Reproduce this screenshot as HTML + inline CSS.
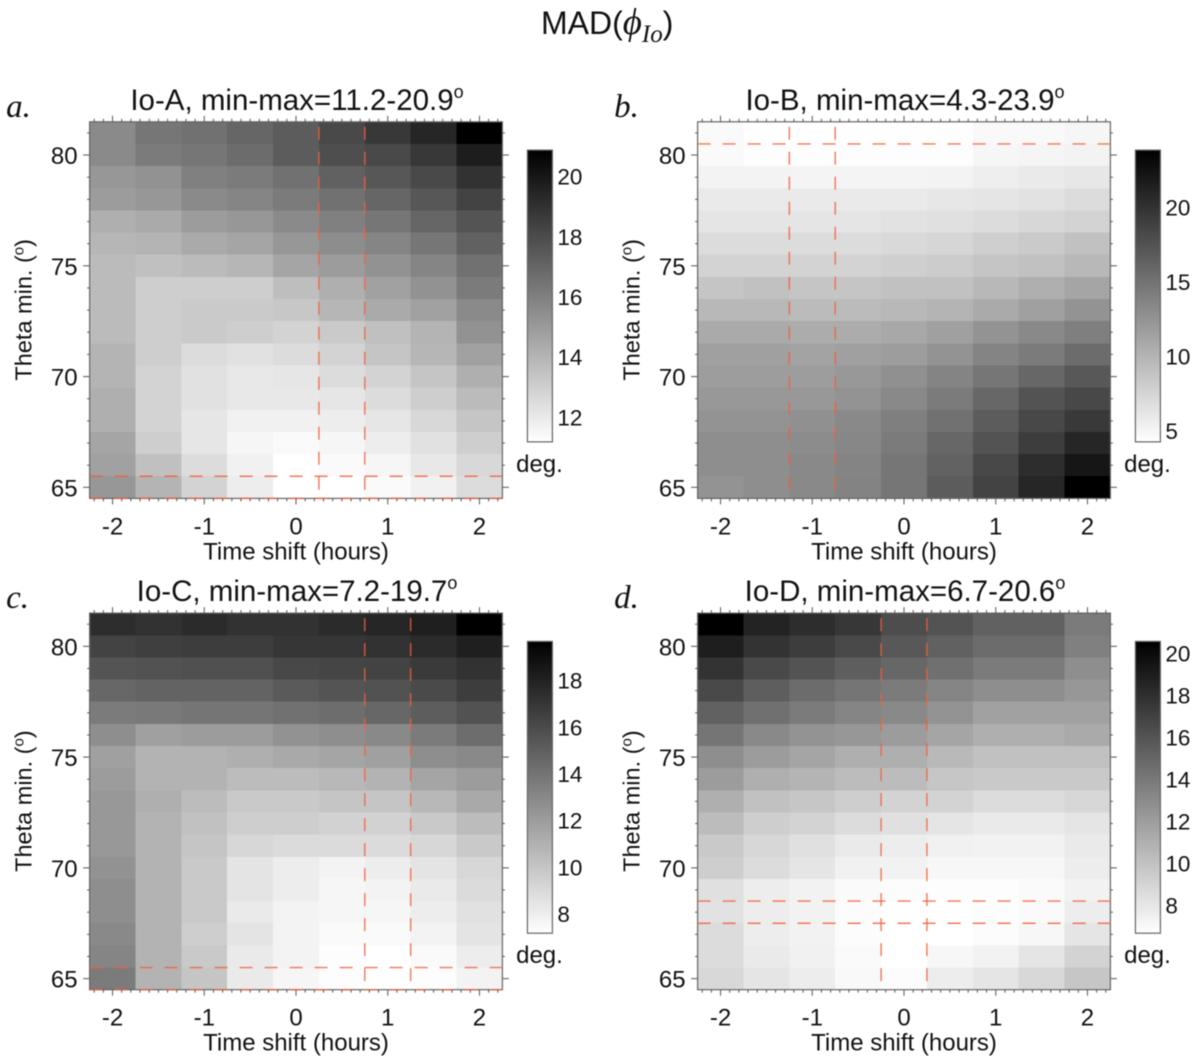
<!DOCTYPE html>
<html lang="en">
<head>
<meta charset="utf-8">
<title>MAD(phi Io)</title>
<style>
html,body{margin:0;padding:0;background:#fff;}
svg{display:block;filter:blur(0.55px);}
text{font-family:"Liberation Sans",sans-serif;fill:#111;}
.serif{font-family:"Liberation Serif",serif;font-style:italic;}
</style>
</head>
<body>
<svg id="figure" xmlns="http://www.w3.org/2000/svg" width="1200" height="1061" viewBox="0 0 1200 1061">
  <defs>
    <linearGradient id="grayRamp" x1="0" y1="1" x2="0" y2="0">
      <stop offset="0" stop-color="#fff"/>
      <stop offset="1" stop-color="#000"/>
    </linearGradient>
  </defs>
  <rect x="0" y="0" width="1200" height="1061" fill="#fff"/>
  <text x="541" y="34" font-size="32">MAD(<tspan class="serif" font-size="37">&#981;</tspan><tspan class="serif" font-size="25" dy="8">Io</tspan><tspan dy="-8">)</tspan></text>
</svg>
<script>
const timeShifts = [-2, -1.5, -1, -0.5, 0, 0.5, 1, 1.5, 2];
const thetaMins = [81, 80, 79, 78, 77, 76, 75, 74, 73, 72, 71, 70, 69, 68, 67, 66, 65];
const xTickLabels = [-2, -1, 0, 1, 2];
const yTickLabels = [65, 70, 75, 80];

const ioAValues = [
[16.1,16.9,17.1,17.5,17.9,18.6,19.2,19.8,20.9],
[16.1,16.7,16.9,17.3,17.9,18.4,18.6,19.2,20.1],
[15.6,15.8,16.5,16.7,17.1,17.7,18.1,18.6,19.4],
[15.4,15.6,16.1,16.3,16.7,17.1,17.5,18.1,18.8],
[14.6,14.8,15.4,15.6,16.1,16.5,16.9,17.5,18.2],
[14.3,14.4,14.8,15.0,15.6,16.0,16.3,16.9,17.7],
[14.1,13.9,14.1,14.3,15.0,15.4,15.8,16.3,17.1],
[14.1,13.3,13.3,13.3,14.0,14.6,15.2,15.8,16.7],
[14.1,13.3,13.5,13.5,13.6,14.3,14.8,15.2,16.1],
[14.1,13.3,13.5,13.3,13.1,13.5,13.9,14.4,15.8],
[14.4,13.3,12.7,12.5,12.7,13.1,13.7,14.3,15.2],
[14.4,13.1,12.5,12.2,12.3,12.7,13.1,13.7,14.6],
[14.6,13.1,12.5,12.2,12.2,12.3,12.7,13.3,14.1],
[14.6,13.1,12.3,11.8,11.8,12.0,12.3,12.9,13.7],
[15.0,13.3,12.3,11.6,11.4,11.6,12.0,12.5,13.3],
[15.2,13.9,12.7,11.8,11.2,11.4,11.6,12.2,12.9],
[15.6,14.4,13.1,12.0,11.2,11.2,11.4,11.8,12.7]
];
const ioBValues = [
[4.7,4.3,4.3,4.3,4.4,4.4,4.8,4.8,5.1],
[4.7,4.5,4.5,4.5,4.5,4.5,5.1,5.2,5.4],
[5.4,5.4,5.3,5.3,5.3,5.4,5.8,6.1,6.4],
[6.1,6.1,6.1,6.1,6.1,6.4,6.6,6.8,7.4],
[6.6,6.6,6.6,6.6,6.8,7.0,7.4,7.8,8.1],
[7.4,7.4,7.4,7.4,7.6,7.9,8.5,8.9,9.7],
[8.1,8.1,8.1,8.1,8.5,8.7,9.3,9.7,10.4],
[9.3,9.7,9.3,9.3,9.7,9.7,10.4,11.2,12.0],
[10.4,10.4,10.2,10.2,10.4,10.8,11.6,12.4,13.5],
[11.6,11.6,11.4,11.4,11.8,12.4,13.5,14.3,15.1],
[12.4,12.4,12.2,12.4,12.7,13.5,14.7,15.4,16.6],
[12.7,12.7,12.7,13.1,13.7,14.7,15.8,17.0,18.1],
[13.1,13.1,13.1,13.5,14.3,15.4,17.0,18.5,19.3],
[13.5,13.5,13.7,14.3,15.1,16.2,17.8,19.3,20.4],
[13.9,13.9,14.1,14.5,15.4,17.0,18.5,20.1,21.7],
[13.9,13.9,14.3,14.7,15.8,17.4,19.3,21.2,22.7],
[13.5,13.9,14.3,14.8,15.8,17.8,19.7,21.7,23.9]
];
const ioCValues = [
[18.0,17.8,18.1,17.8,17.8,18.1,18.3,18.6,19.7],
[17.0,17.2,17.3,17.3,17.6,17.6,17.8,18.1,18.6],
[16.2,16.3,16.4,16.4,16.8,16.9,17.0,17.4,17.8],
[15.3,15.5,15.5,15.5,15.9,16.2,16.3,16.7,17.3],
[14.3,14.4,14.6,14.6,14.8,15.0,15.3,15.8,16.3],
[13.3,12.4,12.6,12.6,13.1,13.3,13.6,14.3,15.0],
[12.4,11.4,11.4,11.6,11.9,12.1,12.4,13.3,13.6],
[12.6,11.4,11.4,10.9,10.9,11.1,11.4,12.1,12.6],
[12.8,11.6,10.9,10.2,10.2,10.4,10.4,11.1,11.9],
[12.8,11.4,10.6,9.9,9.9,9.7,9.7,10.2,10.9],
[12.8,11.4,10.4,9.4,9.2,9.2,9.2,9.4,10.2],
[13.1,11.4,10.2,8.7,8.2,7.9,8.2,8.7,9.4],
[13.3,11.4,10.2,8.7,8.2,7.7,7.9,8.4,9.2],
[13.3,11.4,10.2,8.4,7.9,7.7,7.7,8.2,8.9],
[13.6,11.4,9.9,8.7,7.9,7.5,7.5,7.9,8.7],
[13.8,11.4,10.2,8.4,7.9,7.3,7.2,7.5,8.2],
[14.3,11.4,10.4,8.4,7.7,7.3,7.2,7.3,7.9]
];
const ioDValues = [
[20.6,19.2,18.7,18.2,17.1,16.8,16.0,16.0,14.6],
[19.4,18.4,17.9,17.3,16.5,16.0,15.4,15.4,14.3],
[18.4,17.3,16.8,16.2,15.7,15.2,14.6,14.6,13.5],
[17.3,16.2,15.4,14.9,14.6,14.0,13.5,13.5,13.0],
[16.0,15.2,14.6,14.0,13.8,13.2,12.4,12.4,12.4],
[14.9,13.8,13.2,13.0,12.7,12.2,11.6,11.6,11.9],
[13.5,12.7,12.2,11.6,11.6,11.0,10.5,10.5,10.5],
[12.7,11.6,11.3,10.8,10.8,10.2,10.0,10.0,10.0],
[11.6,10.5,10.2,9.7,9.4,9.4,8.9,8.9,9.2],
[10.8,9.7,9.4,8.9,8.6,8.3,8.0,8.0,8.3],
[10.0,9.2,8.6,8.0,7.8,7.6,7.5,7.5,8.0],
[9.7,8.9,8.3,7.6,7.5,7.2,7.2,7.2,7.8],
[8.6,7.8,7.5,7.0,6.9,6.8,6.8,7.0,7.5],
[8.5,7.8,7.5,6.9,6.7,6.7,6.8,7.0,7.8],
[8.9,7.8,7.5,6.9,6.7,6.7,6.9,7.2,8.3],
[8.9,8.0,7.6,7.0,6.7,7.2,7.5,8.3,9.4],
[9.1,8.3,7.8,7.1,6.9,7.8,8.3,9.1,10.2]
];

const ioANames = ["Io-A", "Io-B", "Io-C", "Io-D"];
const panelLetters = ["a.", "b.", "c.", "d."];
const rangeMins = [11.2, 4.3, 7.2, 6.7];
const rangeMaxes = [20.9, 23.9, 19.7, 20.6];
const panelValues = [ioAValues, ioBValues, ioCValues, ioDValues];
const ioAColorTicks = [12, 14, 16, 18, 20];
const ioBColorTicks = [5, 10, 15, 20];
const ioCColorTicks = [8, 10, 12, 14, 16, 18];
const ioDColorTicks = [8, 10, 12, 14, 16, 18, 20];
const panelColorTicks = [ioAColorTicks, ioBColorTicks, ioCColorTicks, ioDColorTicks];
const ioAShiftBox = [0.25, 0.75];
const ioBShiftBox = [-1.25, -0.75];
const ioCShiftBox = [0.75, 1.25];
const ioDShiftBox = [-0.25, 0.25];
const panelShiftBoxes = [ioAShiftBox, ioBShiftBox, ioCShiftBox, ioDShiftBox];
const ioAThetaBox = [65.5, 64.5];
const ioBThetaBox = [80.5];
const ioCThetaBox = [65.5, 64.5];
const ioDThetaBox = [68.5, 67.5];
const panelThetaBoxes = [ioAThetaBox, ioBThetaBox, ioCThetaBox, ioDThetaBox];

/* layout, not data */
const PLOT_W = 412.8, PLOT_H = 376.6;
const originX = [89.6, 697.6, 89.6, 697.6];
const originY = [121.8, 121.8, 613.1, 613.1];
const CELL_GAMMA = 0.87;
const NS = "http://www.w3.org/2000/svg";
const svg = document.getElementById("figure");

function mk(tag, attrs, parent) {
  const el = document.createElementNS(NS, tag);
  for (const k in attrs) el.setAttribute(k, attrs[k]);
  parent.appendChild(el);
  return el;
}

function drawPanel(i) {
  const ox = originX[i], oy = originY[i];
  const xAxis = t => ox + (t + 2.25) / 4.5 * PLOT_W;
  const yAxis = d => oy + (81.5 - d) / 17 * PLOT_H;
  const lo = rangeMins[i], hi = rangeMaxes[i];
  const gray = v => {
    const frac = Math.max(0, Math.min(1, 1 - (v - lo) / (hi - lo)));
    const c = Math.round(255 * Math.pow(frac, CELL_GAMMA));
    return "rgb(" + c + "," + c + "," + c + ")";
  };

  const g = mk("g", {}, svg);
  
  

  const letter = mk("text", {x: ox - 83.5, y: oy - 5, "font-size": 33, "class": "serif"}, g);
  letter.textContent = panelLetters[i];
  
  

  const title = mk("text", {x: ox + PLOT_W / 2 + 1, y: oy - 12, "font-size": 29.5, "text-anchor": "middle"}, g);
  title.textContent = ioANames[i] + ", min-max=" + lo.toFixed(1) + "-" + hi.toFixed(1);
  
  
  const deg = mk("tspan", {dy: -12, "font-size": 18}, title);
  deg.textContent = "o";
  
  

  const cells = mk("g", {"shape-rendering": "crispEdges"}, g);
  
  
  panelValues[i].forEach((row, r) => {
    row.forEach((v, c) => {
      const x0 = xAxis(timeShifts[c] - 0.25), x1 = xAxis(timeShifts[c] + 0.25);
      const y0 = yAxis(thetaMins[r] + 0.5), y1 = yAxis(thetaMins[r] - 0.5);
      const cell = mk("rect", {x: x0, y: y0, width: x1 - x0 + 0.5, height: y1 - y0 + 0.5, fill: gray(v)}, cells);
      
      
    });
  });

  const frame = mk("rect", {x: ox, y: oy, width: PLOT_W, height: PLOT_H, fill: "none", stroke: "#666", "stroke-width": 1.2}, g);
  
  

  panelShiftBoxes[i].forEach(t => {
    const guide = mk("line", {x1: xAxis(t), x2: xAxis(t), y1: oy, y2: oy + PLOT_H, stroke: "#f2603c", "stroke-width": 1.4, "stroke-dasharray": "13 12", "stroke-dashoffset": -5, opacity: 0.85}, g);
    
    
  });
  panelThetaBoxes[i].forEach(d => {
    const guide = mk("line", {x1: ox, x2: ox + PLOT_W, y1: yAxis(d), y2: yAxis(d), stroke: "#f2603c", "stroke-width": 1.4, "stroke-dasharray": "13 12", opacity: 0.85}, g);
    
    
  });

  /* x ticks: every 0.1 hour, major at whole hours */
  for (let n = -22; n <= 22; n++) {
    const t = n / 10;
    const major = n % 10 === 0;
    const len = major ? 6 : 3;
    const top = mk("line", {x1: xAxis(t), x2: xAxis(t), y1: oy, y2: oy - len, stroke: "#555", "stroke-width": 1}, g);
    
    
    const bottom = mk("line", {x1: xAxis(t), x2: xAxis(t), y1: oy + PLOT_H, y2: oy + PLOT_H + len, stroke: "#555", "stroke-width": 1}, g);
    
    
  }
  /* y ticks: every degree, major at labelled degrees */
  thetaMins.forEach(d => {
    const major = yTickLabels.includes(d);
    const len = major ? 6.5 : 2.5;
    const left = mk("line", {x1: ox, x2: ox - len, y1: yAxis(d), y2: yAxis(d), stroke: "#555", "stroke-width": 1}, g);
    
    
    const right = mk("line", {x1: ox + PLOT_W, x2: ox + PLOT_W + len, y1: yAxis(d), y2: yAxis(d), stroke: "#555", "stroke-width": 1}, g);
    
    
  });

  xTickLabels.forEach(t => {
    const lab = mk("text", {x: xAxis(t), y: oy + PLOT_H + 36, "font-size": 24, "text-anchor": "middle"}, g);
    lab.textContent = String(t);
    
    
  });
  yTickLabels.forEach(d => {
    const lab = mk("text", {x: ox - 12, y: yAxis(d) + 9, "font-size": 24, "text-anchor": "end"}, g);
    lab.textContent = String(d);
    
    
  });

  const xTitle = mk("text", {x: ox + PLOT_W / 2, y: oy + PLOT_H + 61, "font-size": 24, "text-anchor": "middle"}, g);
  xTitle.textContent = "Time shift (hours)";
  
  

  const yx = ox - 58, yy = oy + 188;
  const yTitle = mk("text", {x: yx, y: yy, "font-size": 23.5, "text-anchor": "middle", transform: "rotate(-90 " + yx + " " + yy + ")"}, g);
  yTitle.textContent = "Theta min. (";
  
  
  const yDeg = mk("tspan", {dy: -8, "font-size": 15}, yTitle);
  yDeg.textContent = "o";
  
  
  const yClose = mk("tspan", {dy: 8}, yTitle);
  yClose.textContent = ")";
  
  

  /* colour bar */
  const barX = ox + 437.8, barW = 25, barTop = oy + 28.3, barH = 291.8;
  const barAxis = v => barTop + barH * (1 - (v - lo) / (hi - lo));
  const bar = mk("rect", {x: barX, y: barTop, width: barW, height: barH, fill: "url(#grayRamp)", stroke: "#666", "stroke-width": 1.2}, g);
  
  
  panelColorTicks[i].forEach(v => {
    const lab = mk("text", {x: barX + 30, y: barAxis(v) + 7.5, "font-size": 22.5}, g);
    lab.textContent = String(v);
    
    
  });
  const unit = mk("text", {x: ox + 426.5, y: oy + 350, "font-size": 24}, g);
  unit.textContent = "deg.";
  
  
}

panelValues.forEach((_, i) => drawPanel(i));
</script>
</body>
</html>
